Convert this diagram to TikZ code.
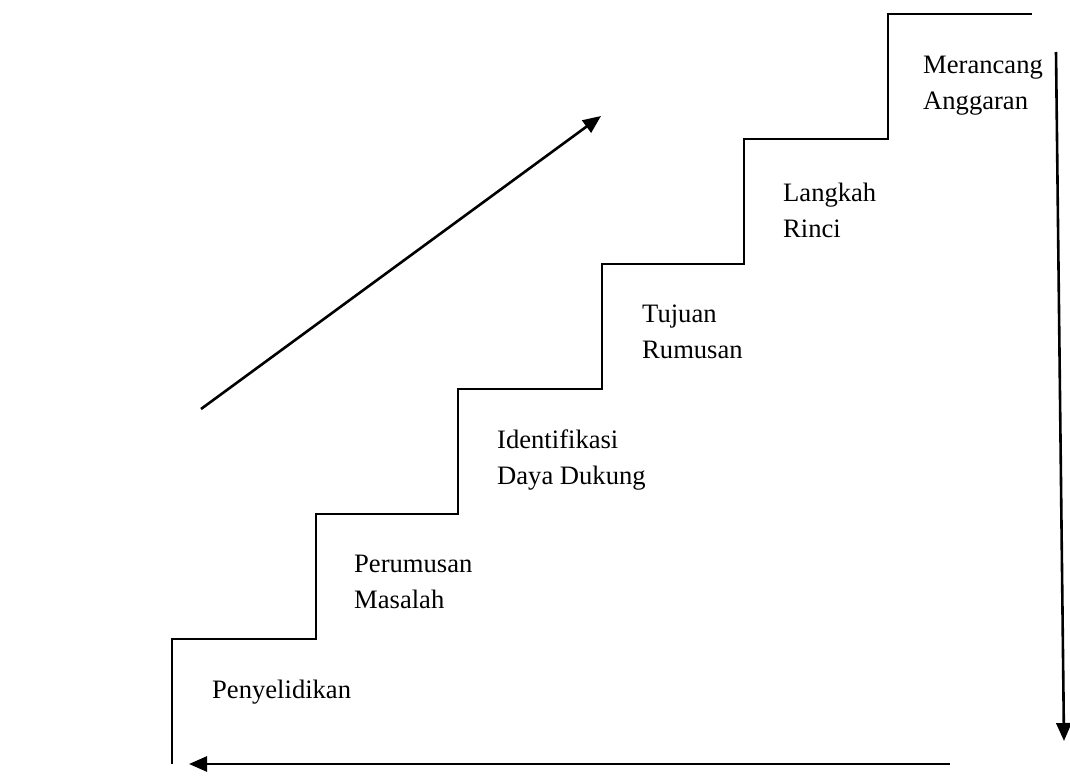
\documentclass[tikz,border=0pt]{standalone}
\usepackage{fontspec}
\setmainfont{Liberation Serif}
\usetikzlibrary{arrows.meta}
\begin{document}
\begin{tikzpicture}[x=1pt,y=-1pt,
  stairline/.style={line width=2.2pt,line join=miter},
  flowarrow/.style={line width=2.6pt,-{Triangle[length=18pt,width=15pt]}},
  steplabel/.style={anchor=base west,inner sep=0pt,
    font=\fontsize{26.6}{36}\selectfont}]
  \useasboundingbox (0,0) rectangle (1070,778);

  % staircase outline
  \draw[stairline] (172,764) -- (172,639) -- (316,639) -- (316,514)
    -- (458,514) -- (458,389) -- (602,389) -- (602,264)
    -- (744,264) -- (744,139) -- (888,139) -- (888,14) -- (1032,14);

  % step labels
  \node[steplabel] (s1) at (212,698) {Penyelidikan};
  \node[steplabel] (s2) at (354,572) {\begin{tabular}[t]{@{}l@{}}Perumusan\\Masalah\end{tabular}};
  \node[steplabel] (s3) at (497,448) {\begin{tabular}[t]{@{}l@{}}Identifikasi\\Daya Dukung\end{tabular}};
  \node[steplabel] (s4) at (642,322) {\begin{tabular}[t]{@{}l@{}}Tujuan\\Rumusan\end{tabular}};
  \node[steplabel] (s5) at (783,201) {\begin{tabular}[t]{@{}l@{}}Langkah\\Rinci\end{tabular}};
  \node[steplabel] (s6) at (923,74) {\begin{tabular}[t]{@{}l@{}}Merancang\\Anggaran\end{tabular}};

  % arrow end points
  \coordinate (upA) at (201,409);
  \coordinate (upB) at (601,116);
  \coordinate (downA) at (1056,52);
  \coordinate (downB) at (1064,741);
  \coordinate (backA) at (950,764);
  \coordinate (backB) at (189,764);

  \draw[flowarrow] (upA) -- (upB);
  \draw[flowarrow] (downA) -- (downB);
  \draw[flowarrow] (backA) -- (backB);
\end{tikzpicture}
\end{document}
